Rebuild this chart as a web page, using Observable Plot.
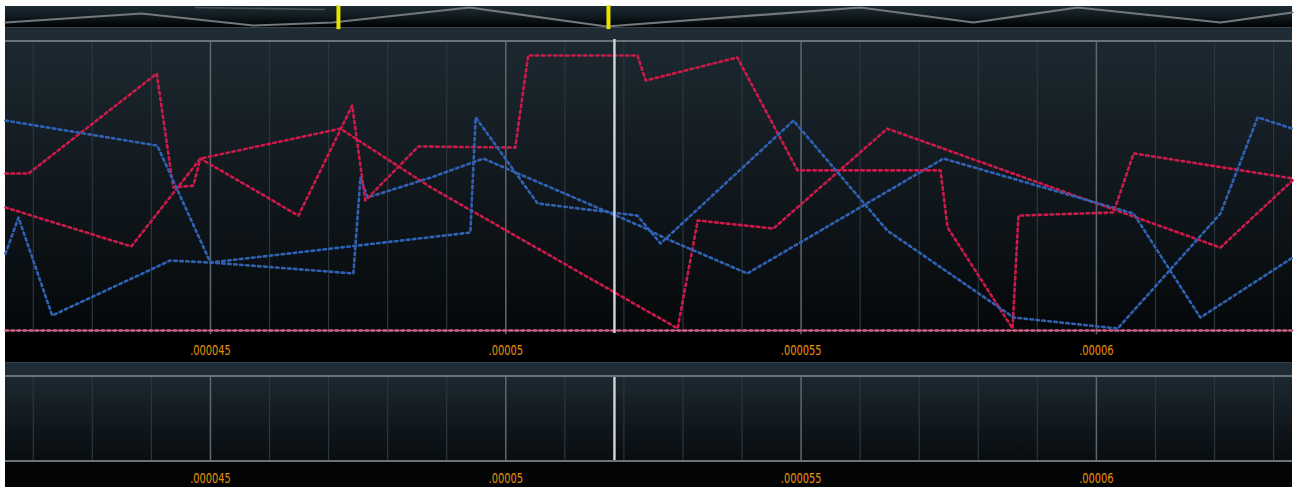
<!DOCTYPE html>
<html>
<head>
<meta charset="utf-8">
<script src="https://cdn.jsdelivr.net/npm/d3@7"></script>
<script src="https://cdn.jsdelivr.net/npm/@observablehq/plot@0.6"></script>
<style>
  html, body { margin: 0; padding: 0; background: #ffffff; overflow: hidden; }
  #wrap { position: absolute; left: 5px; top: 6px; width: 1287px; }
  #nav { height: 21px; background: linear-gradient(to bottom, #1d2a33 0%, #111a20 50%, #000000 100%); }
  #band1, #band2 { height: 13px; background: #1f2c36; box-sizing: border-box; border-top: 1px solid #34434d; }
  #main { height: 322px; background: linear-gradient(to bottom, #6a737a 0px, #6a737a 2px, #1c2830 2px, #05080a 293px, #000 293px, #000 322px); }
  #bottom { height: 112px; background: linear-gradient(to bottom, #6a737a 0px, #6a737a 2px, #1c2830 2px, #080c0f 85px, #6a737a 85px, #6a737a 87px, #030405 87px, #030405 112px); }
  svg { display: block; }
</style>
</head>
<body>
<div id="wrap">
  <div id="nav"></div>
  <div id="band1"></div>
  <div id="main"></div>
  <div id="band2"></div>
  <div id="bottom"></div>
</div>
<script>
// ---- x axis (microseconds) ----
const xDomain = [41.53, 63.32];
const tickValues = [45, 50, 55, 60];
const tickLabels = [".000045", ".00005", ".000055", ".00006"];
const minorTicks = [42, 43, 44, 46, 47, 48, 49, 51, 52, 53, 54, 56, 57, 58, 59, 61, 62, 63];
const cursorT = 51.84;

// ---- series (t in µs, v in 0–100 units) ----
const blueA_t = [41.53, 44.10, 45.00, 49.40, 49.49, 50.54, 52.23, 52.62, 54.87, 56.46, 58.60, 60.36, 62.10, 62.73, 63.32];
const blueA_v = [72.9, 64.2, 23.6, 34.0, 74.0, 44.1, 39.9, 30.2, 72.9, 34.7, 4.5, 0.7, 40.6, 74.0, 70.1];

const blueB_t = [41.53, 41.75, 42.32, 44.32, 45.00, 47.42, 47.54, 47.66, 48.73, 49.62, 52.33, 52.67, 54.09, 57.41, 60.63, 61.76, 63.32];
const blueB_v = [26.7, 39.2, 5.2, 24.3, 23.6, 19.8, 53.1, 46.2, 53.1, 59.7, 35.8, 32.3, 19.8, 59.7, 40.6, 4.5, 25.3];

const redA_t = [41.53, 41.92, 44.09, 44.37, 44.71, 44.83, 46.49, 47.40, 47.62, 48.52, 50.16, 50.38, 52.23, 52.37, 52.91, 53.92, 54.94, 57.36, 57.48, 58.58, 58.68, 60.29, 60.63, 63.32];
const redA_v = [54.5, 54.5, 89.2, 49.7, 50.3, 59.7, 39.9, 78.1, 45.1, 63.9, 63.5, 95.5, 95.5, 86.8, 89.6, 94.8, 55.6, 55.6, 35.8, 0.7, 39.9, 41.0, 61.5, 52.8];

const redB_t = [41.53, 43.66, 44.83, 47.20, 48.73, 52.91, 53.25, 54.53, 56.46, 62.10, 63.32];
const redB_v = [42.7, 29.2, 59.7, 70.1, 49.7, 0.7, 38.2, 35.4, 70.1, 28.8, 52.1];

const base_t = [41.53, 63.32];
const base_v = [0, 0];

// ---- navigator overview ----
const nav1_x = [0, 10.57, 19.27, 25.41, 36.05, 46.70, 66.43, 75.21, 83.30, 94.41, 100];
const nav1_y = [23.8, 66.7, 9.5, 23.8, 95.2, 4.8, 95.2, 23.8, 95.2, 23.8, 71.4];
const nav2_x = [14.76, 24.79];
const nav2_y = [95.2, 85.7];
const navHandles = [25.87, 46.85];

// ---- colours ----
const RED = "#cc1a4a";
const BLUE = "#2f62b4";
const PINK = "#d0628a";
const ORANGE = "#e8900c";

const zip = (ts, vs) => ts.map((t, i) => ({t, v: vs[i]}));
const W = 1287;
const FONT = "'DejaVu Sans Condensed', 'DejaVu Sans', sans-serif";
const ticksData = tickValues.map((t, i) => ({t, label: tickLabels[i]}));

const dotted = {strokeWidth: 2.6, strokeDasharray: "2.6 3.4"};

function condense(svg, s) {
  svg.querySelectorAll("text").forEach(t => {
    const b = t.getBBox();
    const cx = b.x + b.width / 2;
    const prev = t.getAttribute("transform") || "";
    t.setAttribute("transform", `${prev} translate(${cx},0) scale(${s},1) translate(${-cx},0)`);
  });
}

// Navigator
const nav = Plot.plot({
  width: W, height: 21, margin: 0,
  style: {background: "transparent", overflow: "visible"},
  x: {domain: [0, 100], axis: null},
  y: {domain: [0, 100], axis: null},
  marks: [
    Plot.line(zip(nav2_x, nav2_y), {x: "t", y: "v", stroke: "#5d6468", strokeWidth: 1.6, strokeOpacity: 0.7}),
    Plot.line(zip(nav1_x, nav1_y), {x: "t", y: "v", stroke: "#72787c", strokeWidth: 2.2}),
    Plot.ruleX(navHandles, {y1: -10, y2: 104, stroke: "#e8e400", strokeWidth: 4})
  ]
});
document.getElementById("nav").appendChild(nav);

// Main panel
const main = Plot.plot({
  width: W, height: 322,
  marginTop: 2, marginBottom: 32, marginLeft: 0, marginRight: 0,
  style: {background: "transparent", overflow: "visible", fontFamily: FONT},
  x: {domain: xDomain, axis: null},
  y: {domain: [0, 100], axis: null},
  marks: [
    Plot.ruleX(minorTicks, {y1: -1, y2: 100, stroke: "#2b363e", strokeWidth: 1.2}),
    Plot.ruleX(tickValues, {y1: -1.5, y2: 100, stroke: "#5f686e", strokeWidth: 1.5}),
    Plot.ruleY([0], {stroke: "#6c6f76", strokeWidth: 1}),
    Plot.line(zip(base_t, base_v), {x: "t", y: "v", stroke: PINK, ...dotted}),
    Plot.line(zip(redB_t, redB_v), {x: "t", y: "v", stroke: RED, ...dotted}),
    Plot.line(zip(blueB_t, blueB_v), {x: "t", y: "v", stroke: BLUE, ...dotted}),
    Plot.line(zip(redA_t, redA_v), {x: "t", y: "v", stroke: RED, ...dotted}),
    Plot.line(zip(blueA_t, blueA_v), {x: "t", y: "v", stroke: BLUE, ...dotted}),
    Plot.ruleX([cursorT], {y1: -1, y2: 101, stroke: "#d4d6d8", strokeWidth: 2.4}),
    Plot.text(ticksData, {x: "t", text: "label", frameAnchor: "bottom", dy: 24, fill: ORANGE, fontSize: 14, fontFamily: FONT})
  ]
});
document.getElementById("main").appendChild(main);
condense(main, 0.78);

// Bottom panel
const bottom = Plot.plot({
  width: W, height: 112,
  marginTop: 2, marginBottom: 27, marginLeft: 0, marginRight: 0,
  style: {background: "transparent", overflow: "visible", fontFamily: FONT},
  x: {domain: xDomain, axis: null},
  y: {domain: [0, 1], axis: null},
  marks: [
    Plot.ruleX(minorTicks, {stroke: "#2b363e", strokeWidth: 1.2}),
    Plot.ruleX(tickValues, {y1: 0, y2: 1, stroke: "#5f686e", strokeWidth: 1.5}),
    Plot.ruleX([cursorT], {y1: 0, y2: 1, stroke: "#d4d6d8", strokeWidth: 2.4}),
    Plot.text(ticksData, {x: "t", text: "label", frameAnchor: "bottom", dy: 22, fill: ORANGE, fontSize: 14, fontFamily: FONT})
  ]
});
document.getElementById("bottom").appendChild(bottom);
condense(bottom, 0.78);
</script>
</body>
</html>
